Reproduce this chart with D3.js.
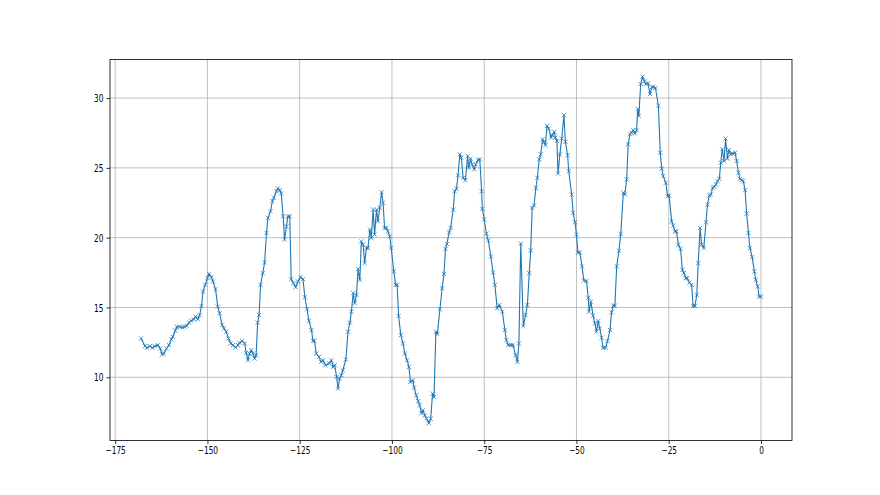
<!DOCTYPE html>
<html><head><meta charset="utf-8">
<script src="https://cdn.jsdelivr.net/npm/d3@7"></script>
<style>body{margin:0;background:#fff}svg{display:block}</style>
</head><body>
<script>
const hoursAgo = [-168.0,-166.9,-166.4,-165.6,-164.9,-164.3,-163.4,-162.8,-162.3,-161.8,-161.1,-160.4,-159.8,-159.4,-158.7,-158.3,-157.5,-156.8,-156.2,-155.6,-155.0,-154.4,-153.7,-153.2,-152.6,-152.1,-151.6,-151.2,-150.6,-150.0,-149.6,-148.9,-148.5,-147.8,-147.2,-146.7,-146.0,-145.5,-144.9,-144.3,-143.7,-143.1,-142.4,-141.7,-141.3,-140.6,-139.9,-139.5,-139.0,-138.6,-138.1,-137.7,-137.2,-136.8,-136.4,-136.0,-135.6,-135.0,-134.5,-134.0,-133.6,-132.9,-132.4,-132.0,-131.3,-130.9,-130.4,-130.0,-129.5,-129.1,-128.6,-128.2,-127.7,-127.3,-126.7,-126.1,-125.5,-124.8,-124.1,-123.6,-123.0,-122.5,-121.8,-121.4,-121.0,-120.5,-119.8,-119.2,-118.7,-118.0,-117.0,-116.4,-116.0,-115.5,-115.0,-114.6,-114.2,-113.7,-113.3,-112.5,-111.9,-111.4,-111.0,-110.5,-110.1,-109.6,-109.2,-108.7,-108.3,-107.8,-107.4,-106.9,-106.5,-106.0,-105.6,-105.1,-104.7,-104.2,-103.8,-103.3,-102.8,-102.4,-102.0,-101.5,-101.1,-100.6,-100.2,-99.5,-99.0,-98.6,-98.2,-97.6,-97.0,-96.5,-95.9,-95.4,-95.0,-94.3,-94.0,-93.4,-92.9,-92.5,-92.0,-91.6,-91.1,-90.6,-90.0,-89.5,-89.0,-88.6,-88.1,-87.7,-87.0,-86.4,-85.9,-85.5,-85.1,-84.5,-84.1,-83.4,-83.0,-82.5,-82.1,-81.6,-81.2,-80.7,-80.1,-79.5,-79.2,-78.7,-78.3,-77.7,-77.3,-76.7,-76.2,-75.7,-75.5,-75.0,-74.4,-73.9,-73.2,-72.6,-72.1,-71.5,-70.9,-70.1,-69.4,-69.0,-68.5,-67.8,-67.2,-66.5,-66.0,-65.6,-65.1,-64.4,-63.8,-63.3,-62.8,-62.4,-62.0,-61.5,-61.0,-60.6,-60.1,-59.7,-59.2,-58.8,-58.4,-58.0,-57.5,-56.9,-56.6,-56.0,-55.7,-55.3,-55.0,-54.5,-54.0,-53.4,-53.0,-52.4,-52.1,-51.3,-50.9,-50.4,-50.0,-49.6,-49.1,-48.5,-48.0,-47.3,-46.8,-46.6,-46.1,-45.5,-45.0,-44.6,-44.1,-43.7,-43.2,-42.8,-42.1,-41.6,-40.9,-40.5,-40.0,-39.6,-39.1,-38.5,-38.0,-37.3,-36.9,-36.4,-36.0,-35.5,-35.1,-34.6,-34.2,-33.7,-33.4,-33.1,-32.6,-32.1,-31.6,-31.2,-30.6,-30.1,-29.6,-29.2,-28.6,-27.8,-27.3,-26.9,-26.5,-25.8,-25.3,-24.9,-24.2,-23.8,-23.3,-22.9,-22.4,-21.8,-21.3,-20.9,-20.4,-20.0,-19.4,-18.8,-18.4,-17.9,-17.4,-17.0,-16.5,-16.1,-15.5,-14.9,-14.5,-14.0,-13.6,-13.1,-12.7,-12.2,-11.8,-11.3,-10.9,-10.5,-10.0,-9.6,-9.1,-8.7,-8.2,-7.7,-7.0,-6.6,-6.1,-5.7,-5.2,-4.8,-4.3,-3.9,-3.4,-3.0,-2.4,-1.8,-1.4,-0.9,-0.5,0.0];
const temperature = [12.78,12.23,12.10,12.23,12.11,12.23,12.30,12.06,11.63,11.70,12.06,12.30,12.71,12.90,13.33,13.62,13.62,13.57,13.62,13.69,13.91,14.05,14.15,14.34,14.15,14.46,15.11,16.14,16.62,17.10,17.41,17.17,16.86,16.31,15.06,14.58,13.74,13.50,13.26,12.78,12.42,12.30,12.13,12.30,12.47,12.59,12.42,11.75,11.22,11.70,11.94,11.70,11.34,11.58,13.91,14.46,16.62,17.46,18.22,20.34,21.42,21.89,22.61,22.86,23.33,23.53,23.40,23.17,21.53,19.86,20.81,21.53,21.53,17.03,16.74,16.45,16.86,17.17,17.03,15.73,14.87,14.05,13.38,12.61,12.61,11.70,11.46,11.10,11.22,10.86,10.99,11.22,10.74,10.86,10.02,9.19,9.90,10.14,10.50,11.27,13.26,13.91,14.70,16.02,15.30,15.90,17.75,16.98,19.73,19.50,18.18,19.26,19.26,20.58,19.98,22.01,20.22,22.01,21.17,22.14,23.26,22.50,20.70,20.70,20.45,20.09,19.26,17.58,16.62,16.62,14.39,13.02,12.42,11.70,11.22,10.74,9.66,9.78,9.26,8.70,8.29,7.99,7.43,7.63,7.27,7.03,6.71,7.03,8.83,8.58,13.26,13.09,14.87,16.38,17.41,19.19,19.55,20.38,20.70,22.01,23.33,23.50,24.46,25.97,25.73,24.29,24.12,25.85,25.01,25.66,25.25,24.89,25.25,25.56,25.61,23.33,22.06,21.30,20.29,19.81,18.65,17.50,16.62,14.94,15.18,14.70,13.38,12.66,12.30,12.30,12.30,11.58,11.10,12.42,19.57,13.67,14.46,15.18,17.46,19.09,22.14,22.30,23.57,24.29,25.61,25.97,27.05,26.86,26.62,28.01,27.82,27.17,27.34,27.58,27.17,26.93,24.60,25.97,27.10,28.78,26.86,25.90,24.77,23.09,21.77,21.10,20.22,18.94,18.94,17.94,16.93,16.90,15.70,14.70,15.42,14.41,13.86,13.26,14.03,13.50,12.83,12.11,12.11,12.59,13.38,14.65,15.13,15.13,17.94,19.06,20.27,23.22,23.09,24.17,26.69,27.41,27.53,27.70,27.46,27.70,29.21,28.73,31.01,31.53,31.20,31.01,31.06,30.29,30.77,30.81,30.72,29.45,26.09,24.96,24.41,23.93,22.97,23.02,21.17,20.86,20.45,20.45,19.50,19.19,17.70,17.46,17.10,17.10,16.78,16.62,15.11,15.11,15.90,18.18,20.70,19.50,19.26,21.10,22.37,23.02,23.09,23.57,23.65,23.81,24.05,24.22,25.37,26.33,25.49,27.10,25.66,26.28,25.97,26.02,26.09,25.49,24.65,24.22,24.12,24.05,23.40,21.73,20.34,19.26,18.61,17.58,16.98,16.50,15.78,15.78];
const xTickValues = [-175,-150,-125,-100,-75,-50,-25,0];
const yTickValues = [10,15,20,25,30];

const W = 880, H = 495;
const mLeft = 110, mRight = 792, mTop = 59.4, mBottom = 440.5;
const color = "#1f77b4";

const svg = d3.select("body").append("svg").attr("width", W).attr("height", H);

const xe = d3.extent(hoursAgo), ye = d3.extent(temperature);
const xm = (xe[1]-xe[0])*0.05, ym = (ye[1]-ye[0])*0.05;
const x = d3.scaleLinear().domain([xe[0]-xm, xe[1]+xm]).range([mLeft, mRight]);
const y = d3.scaleLinear().domain([ye[0]-ym, ye[1]+ym]).range([mBottom, mTop]);

// grid
svg.append("g").selectAll("line").data(xTickValues).join("line")
  .attr("x1", d => x(d)).attr("x2", d => x(d)).attr("y1", mTop).attr("y2", mBottom)
  .attr("stroke", "#b0b0b0").attr("stroke-width", 0.8);
svg.append("g").selectAll("line").data(yTickValues).join("line")
  .attr("y1", d => y(d)).attr("y2", d => y(d)).attr("x1", mLeft).attr("x2", mRight)
  .attr("stroke", "#b0b0b0").attr("stroke-width", 0.8);

const data = hoursAgo.map((h, i) => [h, temperature[i]]);
svg.append("path").datum(data)
  .attr("fill", "none").attr("stroke", color).attr("stroke-width", 1.1)
  .attr("stroke-linejoin", "round")
  .attr("d", d3.line().x(d => x(d[0])).y(d => y(d[1])));

const s = 2.1;
svg.append("g").selectAll("path").data(data).join("path")
  .attr("d", d => {
    const cx = x(d[0]), cy = y(d[1]);
    return `M${cx-s},${cy-s}L${cx+s},${cy+s}M${cx-s},${cy+s}L${cx+s},${cy-s}`;
  })
  .attr("stroke", color).attr("stroke-width", 0.75).attr("fill", "none");

// frame
svg.append("rect").attr("x", mLeft).attr("y", mTop).attr("width", mRight-mLeft).attr("height", mBottom-mTop)
  .attr("fill", "none").attr("stroke", "#000").attr("stroke-width", 0.8);

const sx = 0.74;
const xAxis = svg.append("g").attr("transform", `translate(0,${mBottom})`)
  .call(d3.axisBottom(x).tickValues(xTickValues).tickSize(3.5).tickSizeOuter(0).tickFormat(d3.format("d")));
xAxis.select(".domain").remove();
xAxis.selectAll(".tick line").attr("stroke", "#000").attr("stroke-width", 0.8);
xAxis.selectAll(".tick text").attr("y", 0).attr("dy", 0)
  .attr("transform", `translate(0,13.8) scale(${sx},1)`)
  .attr("font-family", "DejaVu Sans").attr("font-size", 10).attr("fill", "#000");

const yAxis = svg.append("g").attr("transform", `translate(${mLeft},0)`)
  .call(d3.axisLeft(y).tickValues(yTickValues).tickSize(3.5).tickSizeOuter(0).tickFormat(d3.format("d")));
yAxis.select(".domain").remove();
yAxis.selectAll(".tick line").attr("stroke", "#000").attr("stroke-width", 0.8);
yAxis.selectAll(".tick text").attr("x", 0).attr("dy", "0.36em")
  .attr("transform", `translate(-6.5,0) scale(${sx},1)`)
  .attr("font-family", "DejaVu Sans").attr("font-size", 10).attr("fill", "#000");
</script>
</body></html>
